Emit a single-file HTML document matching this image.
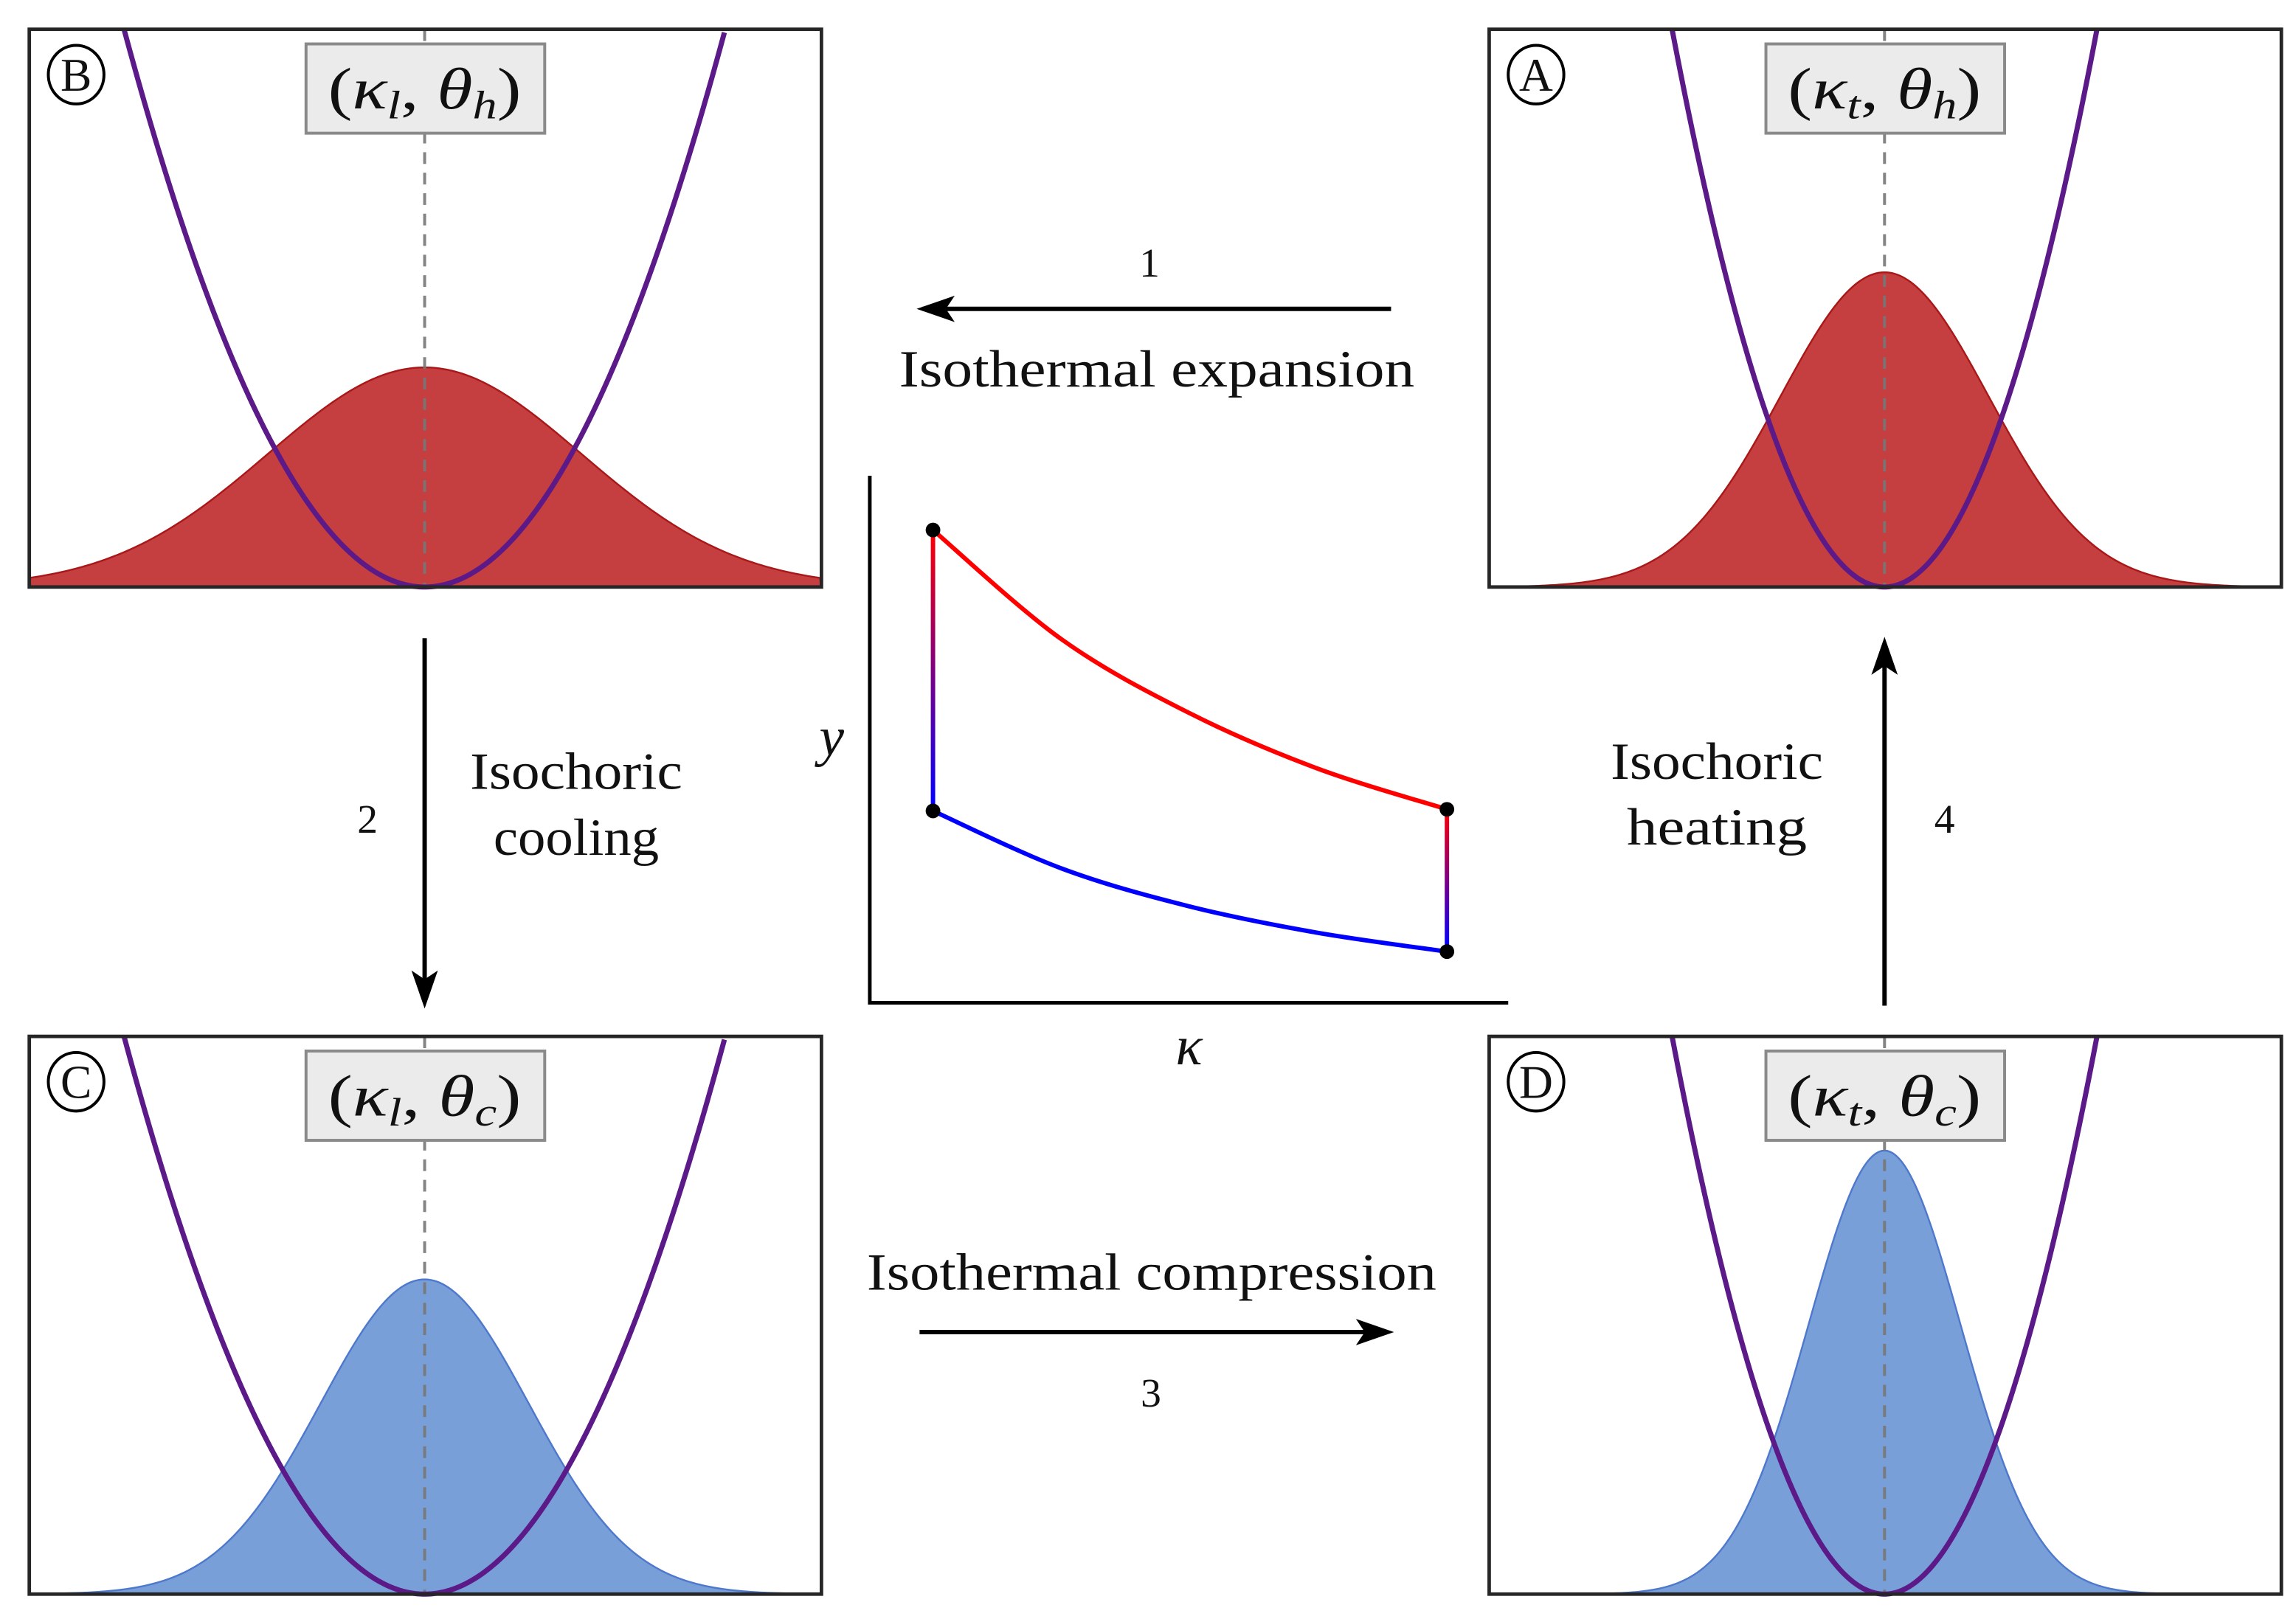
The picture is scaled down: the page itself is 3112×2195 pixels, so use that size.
<!DOCTYPE html>
<html><head><meta charset="utf-8"><style>
html,body{margin:0;padding:0;background:#fff}
svg{display:block}
text{font-family:"Liberation Serif","DejaVu Serif",serif;fill:#111}
.m{font-style:italic}
</style></head><body>
<svg id="fig" width="3112" height="2195" viewBox="0 0 1568 1106" preserveAspectRatio="none" xmlns="http://www.w3.org/2000/svg">
<defs>
<linearGradient id="gl" gradientUnits="userSpaceOnUse" x1="0" y1="361" x2="0" y2="552"><stop offset="0" stop-color="#ff0000"/><stop offset="1" stop-color="#0000ff"/></linearGradient>
<linearGradient id="gr" gradientUnits="userSpaceOnUse" x1="0" y1="552" x2="0" y2="648"><stop offset="0" stop-color="#ff0000"/><stop offset="1" stop-color="#0000ff"/></linearGradient>
</defs>
<g id="panels"></g>
<g id="pv"></g>
<g id="arrows">
<line x1="950" y1="211" x2="630" y2="211" stroke="#000" stroke-width="3"/>
<path d="M626,211 L652,202 L646,211 L652,220 Z" fill="#000"/>
<text x="785" y="189" font-size="28" text-anchor="middle">1</text>
<text x="614" y="264" font-size="36" textLength="352" lengthAdjust="spacingAndGlyphs">Isothermal expansion</text>
<line x1="290" y1="436" x2="290" y2="684" stroke="#000" stroke-width="3"/>
<path d="M290,689 L281,663 L290,669 L299,663 Z" fill="#000"/>
<text x="251" y="569" font-size="28" text-anchor="middle">2</text>
<text x="321" y="539" font-size="36" textLength="145" lengthAdjust="spacingAndGlyphs">Isochoric</text>
<text x="337" y="584" font-size="36" textLength="113" lengthAdjust="spacingAndGlyphs">cooling</text>
<line x1="628" y1="910" x2="946" y2="910" stroke="#000" stroke-width="3"/>
<path d="M952,910 L926,901 L932,910 L926,919 Z" fill="#000"/>
<text x="592" y="881" font-size="36" textLength="389" lengthAdjust="spacingAndGlyphs">Isothermal compression</text>
<text x="786" y="961" font-size="28" text-anchor="middle">3</text>
<line x1="1287" y1="687" x2="1287" y2="440" stroke="#000" stroke-width="3"/>
<path d="M1287,435 L1278,461 L1287,455 L1296,461 Z" fill="#000"/>
<text x="1100" y="532" font-size="36" textLength="145" lengthAdjust="spacingAndGlyphs">Isochoric</text>
<text x="1111" y="577" font-size="36" textLength="123" lengthAdjust="spacingAndGlyphs">heating</text>
<text x="1328" y="569" font-size="28" text-anchor="middle">4</text>
</g>
</svg>
<script>
// ---- panel data ----
const panelLetters = ["B","A","C","D"];
const panelKappa = ["l","t","l","t"];
const panelTheta = ["h","h","c","c"];
const panelPeak = [150, 215, 215, 303];      // distribution peak height
const panelSigma = [107, 71, 71, 52];        // distribution width
const panelCurv = [0.00904, 0.0181, 0.00904, 0.0181]; // trap stiffness
const panelHot = [true, true, false, false];
// ---- pv data ----
const hotKappa = [0.99, 3, 5, 7, 9.04];
const hotY = [8.97, 6.9, 5.5, 4.45, 3.67];
const coldKappa = [0.99, 3, 5, 7, 9.04];
const coldY = [3.64, 2.55, 1.83, 1.33, 0.97];

const NS = "http://www.w3.org/2000/svg";
function mk(tag, attrs, parent){const e=document.createElementNS(NS,tag);for(const k in attrs)e.setAttribute(k,attrs[k]);parent.appendChild(e);return e;}

const boxes = [{x:20,y:20},{x:1017,y:20},{x:20,y:708},{x:1017,y:708}];
const W=541,H=381;
const pg=document.getElementById('panels');
panelLetters.forEach((L,i)=>{
  const b=boxes[i], cx=b.x+270, base=b.y+H;
  const g=mk('g',{},pg);
  
  
  mk('rect',{x:b.x,y:b.y,width:W,height:H,fill:'#fff'},g);
  let d='M'+b.x+','+base;
  for(let x=b.x;x<=b.x+W;x+=2){const dx=x-cx;d+=' L'+x+','+(base-panelPeak[i]*Math.exp(-dx*dx/(2*panelSigma[i]*panelSigma[i]))).toFixed(2);}
  d+=' L'+(b.x+W)+','+base+' Z';
  const dist=mk('path',{d:d,fill:panelHot[i]?'#c53e40':'#789fd8',stroke:panelHot[i]?'#a81818':'#4d78cc','stroke-width':1.2},g);
  
  
  const cl=mk('line',{x1:cx,y1:b.y,x2:cx,y2:base,stroke:'#777','stroke-width':2,'stroke-dasharray':'8,6','stroke-opacity':0.9},g);
  
  
  const k=panelCurv[i];const half=Math.sqrt((H)/k);
  let p='';
  for(let x=cx-half;x<=cx+half+0.01;x+=2){const dx=x-cx;const y=base-k*dx*dx;p+=(p?' L':'M')+x.toFixed(2)+','+Math.max(y,b.y).toFixed(2);}
  const pa=mk('path',{d:p,fill:'none',stroke:'#5c1a88','stroke-width':3.5},g);
  
  
  const fr=mk('rect',{x:b.x,y:b.y,width:W,height:H,fill:'none',stroke:'#262626','stroke-width':2.4},g);
  
  
  const lb=mk('rect',{x:cx-81,y:b.y+10,width:163,height:61,fill:'#ebebeb',stroke:'#8a8a8a','stroke-width':2},g);
  
  
  const t=mk('text',{x:cx-66,y:b.y+54,'font-size':40,textLength:132,lengthAdjust:'spacingAndGlyphs'},g);
  
  
  t.innerHTML='(<tspan class="m">κ</tspan><tspan class="m" font-size="27" dy="7">'+panelKappa[i]+'</tspan><tspan dy="-7">, </tspan><tspan class="m">θ</tspan><tspan class="m" font-size="27" dy="7">'+panelTheta[i]+'</tspan><tspan dy="-7">)</tspan>';
  const c=mk('ellipse',{cx:b.x+32,cy:b.y+31,rx:19,ry:20,fill:'#fff',stroke:'#000','stroke-width':2},g);
  
  
  const ct=mk('text',{x:b.x+32,y:b.y+42,'font-size':32,'text-anchor':'middle'},g);
  
  
  ct.textContent=L;
});

const pv=document.getElementById('pv');
const X0=594,X1=1030,Y0=685,Y1=325;
const sx=v=>X0+(X1-X0)*v/10, sy=v=>Y0-(Y0-Y1)*v/10;
const ax=mk('path',{d:`M${X0},${Y1} L${X0},${Y0} L${X1},${Y0}`,fill:'none',stroke:'#000','stroke-width':2.5},pv);


function smooth(xs,ys){
  const P=xs.map((v,i)=>[sx(v),sy(ys[i])]);
  let d='M'+P[0][0]+','+P[0][1];
  for(let i=0;i<P.length-1;i++){
    const p0=P[Math.max(i-1,0)],p1=P[i],p2=P[i+1],p3=P[Math.min(i+2,P.length-1)];
    const c1=[p1[0]+(p2[0]-p0[0])/6,p1[1]+(p2[1]-p0[1])/6];
    const c2=[p2[0]-(p3[0]-p1[0])/6,p2[1]-(p3[1]-p1[1])/6];
    d+=` C${c1[0]},${c1[1]} ${c2[0]},${c2[1]} ${p2[0]},${p2[1]}`;
  }
  return d;
}
const hot=mk('path',{d:smooth(hotKappa,hotY),fill:'none',stroke:'#ff0000','stroke-width':3},pv);


const cold=mk('path',{d:smooth(coldKappa,coldY),fill:'none',stroke:'#0000ff','stroke-width':3},pv);


const iso1=mk('line',{x1:sx(hotKappa[0]),y1:sy(hotY[0]),x2:sx(coldKappa[0]),y2:sy(coldY[0]),stroke:'url(#gl)','stroke-width':3},pv);


const n=hotKappa.length-1;
const iso2=mk('line',{x1:sx(hotKappa[n]),y1:sy(hotY[n]),x2:sx(coldKappa[n]),y2:sy(coldY[n]),stroke:'url(#gr)','stroke-width':3},pv);


[[hotKappa[0],hotY[0]],[coldKappa[0],coldY[0]],[hotKappa[n],hotY[n]],[coldKappa[n],coldY[n]]].forEach(q=>{
  const c=mk('circle',{cx:sx(q[0]),cy:sy(q[1]),r:5,fill:'#000'},pv);
  
  
});
const yl=mk('text',{x:568,y:516,'font-size':38,'text-anchor':'middle',class:'m'},pv);


yl.textContent='y';
const xl=mk('text',{x:812,y:727,'font-size':38,'text-anchor':'middle',class:'m'},pv);


xl.textContent='κ';
</script>
</body></html>
